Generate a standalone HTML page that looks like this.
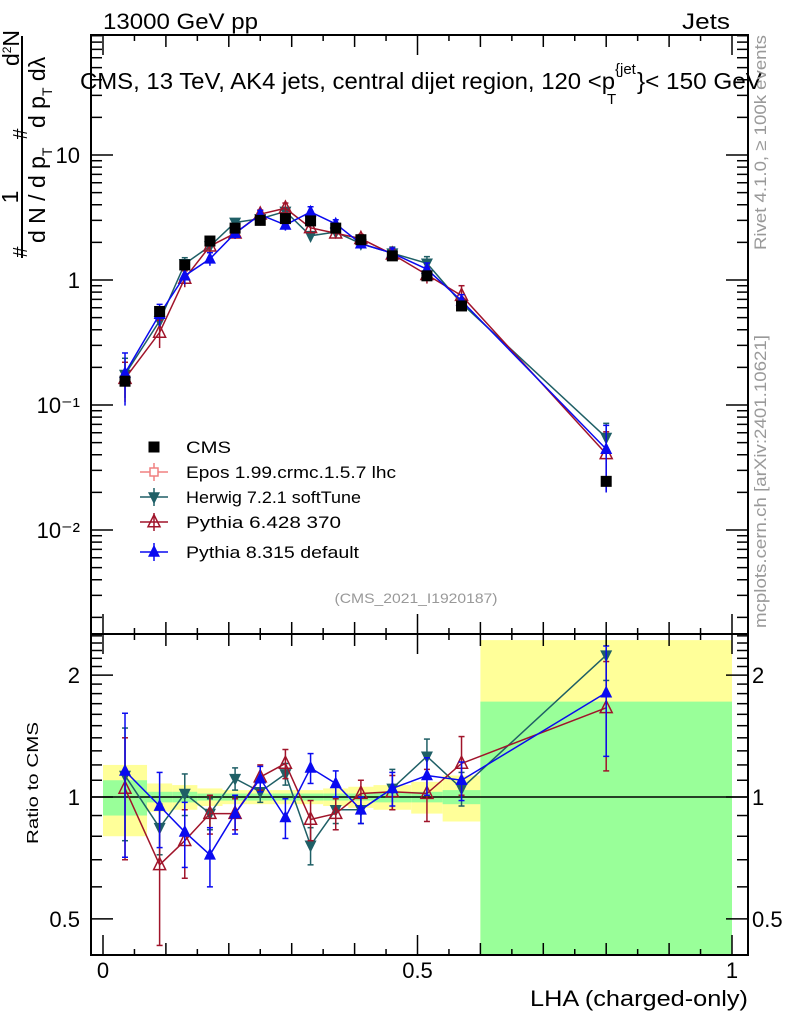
<!DOCTYPE html>
<html><head><meta charset="utf-8"><style>
body{margin:0;background:#fff;}
svg{font-family:"Liberation Sans",sans-serif;}
</style></head><body>
<svg id="c" width="786" height="1024" viewBox="0 0 786 1024" xmlns="http://www.w3.org/2000/svg">
<rect width="786" height="1024" fill="#fff"/>
<g id="bands"></g><g id="main"></g><g id="ratio"></g><g id="axes"></g>
<text x="103" y="29" font-size="22" textLength="155" lengthAdjust="spacingAndGlyphs">13000 GeV pp</text>
<text x="682" y="29" font-size="22" textLength="48" lengthAdjust="spacingAndGlyphs">Jets</text>
<g>
<text x="80" y="89" font-size="23" textLength="535" lengthAdjust="spacingAndGlyphs">CMS, 13 TeV, AK4 jets, central dijet region, 120 &lt;p</text>
<text x="615" y="74" font-size="15">{jet</text>
<text x="607" y="104" font-size="15">T</text>
<text x="637" y="89" font-size="23" textLength="125" lengthAdjust="spacingAndGlyphs">}&lt; 150 GeV</text>
</g>
<text x="416" y="603" font-size="14" fill="#999" text-anchor="middle" textLength="163" lengthAdjust="spacingAndGlyphs">(CMS_2021_I1920187)</text>
<text transform="translate(766,250) rotate(-90)" font-size="17" fill="#999" textLength="215" lengthAdjust="spacingAndGlyphs">Rivet 4.1.0, ≥ 100k events</text>
<text transform="translate(766,628) rotate(-90)" font-size="17" fill="#999" textLength="293" lengthAdjust="spacingAndGlyphs">mcplots.cern.ch [arXiv:2401.10621]</text>
<g font-size="23">
<line x1="22" y1="36" x2="22" y2="258" stroke="#000" stroke-width="2"/>
<text transform="translate(18,197) rotate(-90)" text-anchor="middle">1</text>
<text transform="translate(19,48) rotate(-90)" text-anchor="middle">d<tspan font-size="12" dy="-8">2</tspan><tspan dy="8">N</tspan></text>
<text transform="translate(27,252) rotate(-90)" text-anchor="middle" font-size="20">#</text>
<text transform="translate(27,134) rotate(-90)" text-anchor="middle" font-size="20">#</text>
<text transform="translate(45,243) rotate(-90)">d N / d p<tspan font-size="14" dy="7">T</tspan></text>
<text transform="translate(45,128) rotate(-90)">d p<tspan font-size="14" dy="7">T</tspan><tspan dy="-7"> dλ</tspan></text>
</g>
<text transform="translate(38,783) rotate(-90)" font-size="16" text-anchor="middle" textLength="122" lengthAdjust="spacingAndGlyphs">Ratio to CMS</text>
<text x="530" y="1006" font-size="22" textLength="218" lengthAdjust="spacingAndGlyphs">LHA (charged-only)</text>
<g id="legend"></g>
</svg>
<script>
const edges=[0,0.07,0.11,0.15,0.19,0.23,0.27,0.31,0.35,0.39,0.43,0.49,0.54,0.6,1.0];
const cms=[0.155,0.56,1.32,2.05,2.6,3.0,3.1,2.97,2.6,2.1,1.56,1.08,0.62,0.0245];
const cmsTot=[0.2,0.08,0.07,0.05,0.04,0.04,0.04,0.04,0.05,0.06,0.07,0.09,0.13,1.44];
const cmsStat=[0.1,0.03,0.03,0.02,0.02,0.02,0.02,0.02,0.02,0.02,0.03,0.03,0.04,0.72];
const herwigRatio=[1.13,0.84,1.02,0.91,1.11,1.03,1.14,0.76,0.93,0.93,1.05,1.26,1.05,2.24];
const herwigErr=[0.35,0.12,0.12,0.08,0.07,0.06,0.07,0.08,0.07,0.07,0.12,0.13,0.1,0.3];
const py6Ratio=[1.05,0.68,0.78,0.91,0.91,1.12,1.21,0.88,0.91,1.02,1.03,1.02,1.21,1.66];
const py6Err=[0.35,0.25,0.15,0.1,0.08,0.08,0.1,0.1,0.08,0.08,0.1,0.15,0.2,0.5];
const py8Ratio=[1.16,0.95,0.82,0.72,0.91,1.11,0.89,1.18,1.08,0.93,1.05,1.13,1.1,1.81];
const py8Err=[0.45,0.2,0.15,0.12,0.1,0.08,0.1,0.1,0.08,0.07,0.1,0.12,0.12,0.55];
const yTicks=[10,1,0.1,0.01];
const yTickLabels=["10","1","10⁻¹","10⁻²"];
const rTicks=[0.5,1,2];
const xTicks=[0,0.5,1];

const NS="http://www.w3.org/2000/svg";
const L=91,R=748,MT=35,MB=634,RT=634,RB=955;
const X=v=>103+v*629;
const Y=v=>280-125*Math.log10(v);
const YR=v=>797-405*Math.log10(v);
const clampR=y=>Math.max(RT,Math.min(RB,y));
function el(p,t,a){const e=document.createElementNS(NS,t);for(const k in a)e.setAttribute(k,a[k]);p.appendChild(e);return e;}
const gB=document.getElementById('bands'),gM=document.getElementById('main'),gR=document.getElementById('ratio'),gA=document.getElementById('axes'),gL=document.getElementById('legend');
const mids=cms.map((_,i)=>(edges[i]+edges[i+1])/2);

cms.forEach((_,i)=>{
 const x1=X(edges[i]),x2=X(edges[i+1]);
 const ty1=clampR(YR(1+cmsTot[i])),ty2=clampR(YR(Math.max(0.01,1-cmsTot[i])));
 let t=el(gB,'rect',{x:x1,width:x2-x1,y:ty1,height:ty2-ty1,fill:'#ffff99'});
 
 
 const sy1=clampR(YR(1+cmsStat[i])),sy2=clampR(YR(Math.max(0.01,1-cmsStat[i])));
 let s=el(gB,'rect',{x:x1,width:x2-x1,y:sy1,height:sy2-sy1,fill:'#99ff99'});
 
 
});
let one=el(gB,'line',{x1:L,x2:R,y1:YR(1),y2:YR(1),stroke:'#000','stroke-width':1.5});



function marker(g,type,x,y,c,s){
 s=s||6;
 if(type==='sq')return el(g,'rect',{x:x-s,y:y-s,width:2*s,height:2*s,fill:c});
 if(type==='up')return el(g,'polygon',{points:`${x},${y-s*1.2} ${x-s},${y+s*0.8} ${x+s},${y+s*0.8}`,fill:c});
 if(type==='upo')return el(g,'polygon',{points:`${x},${y-s*1.2} ${x-s},${y+s*0.8} ${x+s},${y+s*0.8}`,fill:'none',stroke:c,'stroke-width':1.5});
 if(type==='dn')return el(g,'polygon',{points:`${x},${y+s*1.2} ${x-s},${y-s*0.8} ${x+s},${y-s*0.8}`,fill:c});
}
function series(name,ratio,err,color,type){
 const gm=el(gM,'g',{});
 
 
 const gr=el(gR,'g',{});
 
 
 const mp=ratio.map((r,i)=>X(mids[i])+','+Y(r*cms[i])).join(' ');
 el(gm,'polyline',{points:mp,fill:'none',stroke:color,'stroke-width':1.5});
 const rp=ratio.map((r,i)=>X(mids[i])+','+YR(r)).join(' ');
 el(gr,'polyline',{points:rp,fill:'none',stroke:color,'stroke-width':1.5});
 ratio.forEach((r,i)=>{
  const x=X(mids[i]);
  const v=r*cms[i],e=err[i]*v;
  el(gm,'line',{x1:x,x2:x,y1:Y(v+e),y2:Y(Math.max(v-e,v*0.3)),stroke:color,'stroke-width':1.5});
  el(gm,'line',{x1:x-3,x2:x+3,y1:Y(v+e),y2:Y(v+e),stroke:color,'stroke-width':1.5});
  const m=marker(gm,type,x,Y(v),color,6);
  
  
  const y1=clampR(YR(r+err[i])),y2=clampR(YR(Math.max(r-err[i],0.05)));
  el(gr,'line',{x1:x,x2:x,y1:y1,y2:y2,stroke:color,'stroke-width':1.5});
  el(gr,'line',{x1:x-3,x2:x+3,y1:y1,y2:y1,stroke:color,'stroke-width':1.5});
  el(gr,'line',{x1:x-3,x2:x+3,y1:y2,y2:y2,stroke:color,'stroke-width':1.5});
  const rm=marker(gr,type,x,YR(r),color,6);
  
  
 });
}
series('herwig',herwigRatio,herwigErr,'#1f5f66','dn');
series('pythia6',py6Ratio,py6Err,'#a0142a','upo');
series('pythia8',py8Ratio,py8Err,'#0a0af0','up');
cms.forEach((v,i)=>{
 const m=marker(gM,'sq',X(mids[i]),Y(v),'#000',5.5);
 
 
});
el(gA,'rect',{x:L,y:MT,width:R-L,height:MB-MT,fill:'none',stroke:'#000','stroke-width':2});
el(gA,'rect',{x:L,y:RT,width:R-L,height:RB-RT,fill:'none',stroke:'#000','stroke-width':2});
for(let d=-3;d<2;d++)for(let k=1;k<10;k++){
 const v=k*Math.pow(10,d),y=Y(v);
 if(y<MT||y>MB)continue;
 const len=k===1?22:11;
 el(gA,'line',{x1:L,x2:L+len,y1:y,y2:y,stroke:'#000','stroke-width':1.5});
 el(gA,'line',{x1:R,x2:R-len,y1:y,y2:y,stroke:'#000','stroke-width':1.5});
}
yTicks.forEach((v,i)=>{
 const t=el(gA,'text',{x:80,y:Y(v)+8,'font-size':22,'text-anchor':'end'});t.textContent=yTickLabels[i];
 
 
});
[0.4,0.5,0.6,0.7,0.8,0.9,1,1.1,1.2,1.3,1.4,1.5,1.6,1.7,1.8,1.9,2,2.1,2.2,2.3,2.4,2.5].forEach(v=>{
 const y=YR(v);if(y<RT||y>RB)return;
 const len=(v===0.5||v===1||v===2)?22:11;
 el(gA,'line',{x1:L,x2:L+len,y1:y,y2:y,stroke:'#000','stroke-width':1.5});
 el(gA,'line',{x1:R,x2:R-len,y1:y,y2:y,stroke:'#000','stroke-width':1.5});
});
rTicks.forEach(v=>{
 const a=el(gA,'text',{x:80,y:YR(v)+8,'font-size':22,'text-anchor':'end'});a.textContent=String(v);
 
 
 const b=el(gA,'text',{x:752,y:YR(v)+8,'font-size':22});b.textContent=String(v);
 
 
});
for(let k=0;k<=20;k++){
 const v=k*0.05,x=X(v);
 const len=k%10===0?20:(k%2===0?12:6);
 [[MT,1],[MB,-1],[RT,1],[RB,-1]].forEach(([y,s])=>el(gA,'line',{x1:x,x2:x,y1:y,y2:y+s*len,stroke:'#000','stroke-width':1.5}));
}
xTicks.forEach(v=>{
 const t=el(gA,'text',{x:X(v),y:978,'font-size':22,'text-anchor':'middle'});t.textContent=String(v);
 
 
});
const legNames=['CMS','Epos 1.99.crmc.1.5.7 lhc','Herwig 7.2.1 softTune','Pythia 6.428 370','Pythia 8.315 default'];
const legColors=['#000','#f08080','#1f5f66','#a0142a','#0a0af0'];
const legTypes=['sq','cross','dn','upo','up'];
const legY=[447,472,497,522,552];
const legW=[45,210,175,155,173];
legNames.forEach((n,i)=>{
 const g=el(gL,'g',{});
 
 
 const y=legY[i],x=154;
 if(i>0)el(g,'line',{x1:x-14,x2:x+14,y1:y,y2:y,stroke:legColors[i],'stroke-width':1.5});
 if(i>0){el(g,'line',{x1:x,x2:x,y1:y-9,y2:y+9,stroke:legColors[i],'stroke-width':1.5});}
 if(legTypes[i]==='cross'){el(g,'rect',{x:x-4,y:y-4,width:8,height:8,fill:'#fff',stroke:legColors[i],'stroke-width':1.5});}
 else marker(g,legTypes[i],x,y,legColors[i],legTypes[i]==='sq'?5.5:6);
 const t=el(g,'text',{x:186,y:y+6,'font-size':17,textLength:legW[i],lengthAdjust:'spacingAndGlyphs'});t.textContent=n;
});
</script>
</body></html>
